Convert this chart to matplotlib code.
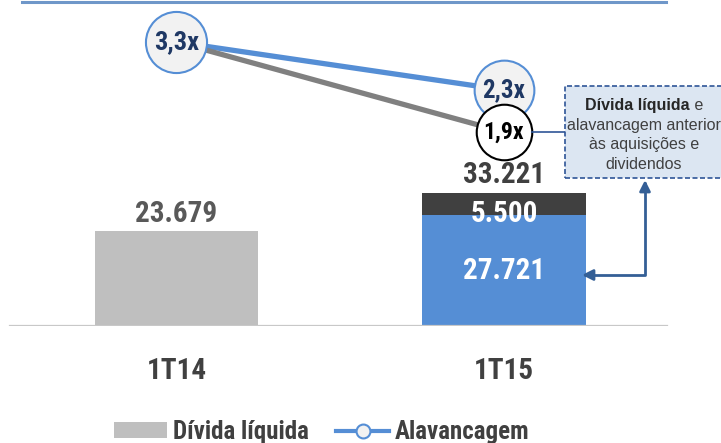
import matplotlib
matplotlib.use("Agg")
import matplotlib.pyplot as plt
from matplotlib.patches import Patch, Rectangle
from matplotlib.lines import Line2D
from matplotlib.offsetbox import TextArea, HPacker, VPacker, AnnotationBbox

plt.rcParams['font.family'] = ['Roboto Condensed', 'Liberation Sans', 'DejaVu Sans']

# dados
trimestres = ['1T14', '1T15']
divida_base = [23679, 27721]        # dívida líquida (anterior às aquisições)
divida_extra = [0, 5500]            # aquisições e dividendos
alav_pos = [3.3, 2.3]               # alavancagem
alav_ant = [3.3, 1.9]               # alavancagem anterior

cinza = '#bfbfbf'
azul = '#558ed5'
escuro = '#404040'
navy = '#1f3864'
seta = '#345f96'

def fmt_mil(v):
    return f"{v:,.0f}".replace(',', '.')

def fmt_x(v):
    return f"{v:.1f}x".replace('.', ',')

fig = plt.figure(figsize=(7.21, 4.43), dpi=100)
ax = fig.add_axes([0, 117 / 443, 1, 326 / 443])
ax.set_xlim(-0.539, 1.663)
ax.set_ylim(0, 81500)
for s in ax.spines.values():
    s.set_visible(False)
ax.set_yticks([])
x = [0, 1]
ax.set_xticks(x, trimestres)
ax.tick_params(axis='x', length=0, pad=22, labelsize=21, labelcolor=escuro)
for t in ax.get_xticklabels():
    t.set_fontweight('bold')

cores_base = [cinza, azul]
ax.bar(x, divida_base, width=0.5, color=cores_base, zorder=2)
ax.bar(x[1], divida_extra[1], bottom=divida_base[1], width=0.5, color=escuro, zorder=2)
ax.axhline(0, xmin=10 / 721, xmax=667 / 721, color='#c8c8c8', lw=1.6, zorder=3)

# rótulos das barras
totais = [b + e for b, e in zip(divida_base, divida_extra)]
cores_tot = ['#595959', escuro]
for xi, tot, c in zip(x, totais, cores_tot):
    ax.annotate(fmt_mil(tot), (xi, tot), xytext=(0, 7), textcoords='offset points',
                ha='center', va='baseline', fontsize=21, fontweight='bold', color=c)
ax.annotate(fmt_mil(divida_extra[1]), (x[1], divida_base[1]), xytext=(0, -5),
            textcoords='offset points', ha='center', va='baseline',
            fontsize=21, fontweight='bold', color='white', zorder=4)
ax.annotate(fmt_mil(divida_base[1]), (x[1], divida_base[1] / 2), ha='center', va='center',
            fontsize=21, fontweight='bold', color='white')

# alavancagem
ax2 = ax.twinx()
ax2.set_ylim(-2.617, 4.175)
ax2.axis('off')
ax3 = ax.twinx()
ax3.set_ylim(-1.117, 3.953)
ax3.axis('off')

ax2.plot(x, alav_pos, color=azul, lw=3.8, solid_capstyle='butt')
ax2.plot(x[1], alav_pos[1], 'o', ms=43, mfc='#f2f2f2', mec=azul, mew=1.5)
ax2.annotate(fmt_x(alav_pos[1]), (x[1], alav_pos[1]), ha='center', va='center',
             fontsize=18, fontweight='bold', color=navy)

ax3.plot(x, alav_ant, color='#808080', lw=3.8, solid_capstyle='butt')
ax3.plot(x[0], alav_ant[0], 'o', ms=44, mfc='#f2f2f2', mec=azul, mew=1.5)
ax3.annotate(fmt_x(alav_ant[0]), (x[0], alav_ant[0]), ha='center', va='center',
             fontsize=19, fontweight='bold', color=navy)
ax3.plot(x[1], alav_ant[1], 'o', ms=40, mfc='white', mec='black', mew=1.5)
ax3.annotate(fmt_x(alav_ant[1]), (x[1], alav_ant[1]), ha='center', va='center',
             fontsize=17, fontweight='bold', color='black')

# caixa de nota
fig.add_artist(Rectangle((565 / 721, 1 - 178 / 443), 160 / 721, 92 / 443,
                         transform=fig.transFigure, facecolor='#dce6f2',
                         edgecolor='#2f5597', lw=1.2, ls=(0, (3, 1.5)), zorder=5))
reg = dict(fontsize=11.5, color=escuro, family=['Liberation Sans', 'DejaVu Sans'])
neg = dict(reg, fontweight='bold', color='#262626')
linha1 = HPacker(children=[TextArea('Dívida líquida', textprops=neg),
                           TextArea(' e', textprops=reg)], sep=0, pad=0)
nota = VPacker(children=[linha1,
                         TextArea('alavancagem anterior', textprops=reg),
                         TextArea('às aquisições e', textprops=reg),
                         TextArea('dividendos', textprops=reg)],
               align='center', sep=3.2, pad=0)
ab = AnnotationBbox(nota, (644 / 721, 1 - 135 / 443), xycoords='figure fraction',
                    frameon=False, zorder=6)
fig.add_artist(ab)

ax3.annotate('', xy=(565, 443 - 132), xycoords='figure pixels',
             xytext=(x[1], alav_ant[1]), textcoords='data',
             arrowprops=dict(arrowstyle='-', color='#2f5597', lw=1.2,
                             shrinkA=20, shrinkB=0))
ax3.annotate('', xy=(582, 443 - 275), xycoords='figure pixels',
             xytext=(645, 443 - 180), textcoords='figure pixels',
             arrowprops=dict(arrowstyle='<|-|>', color=seta, lw=2,
                             mutation_scale=16, shrinkA=0, shrinkB=0,
                             connectionstyle='angle,angleA=90,angleB=0,rad=0'))

# linha superior
fig.add_artist(Line2D([22 / 721, 666 / 721], [1 - 1.5 / 443] * 2,
                      transform=fig.transFigure, color='#6f97c9', lw=2.2))

# legenda
handles = [Patch(facecolor=cinza, edgecolor='none'),
           Line2D([], [], color=azul, lw=3, marker='o', ms=10, mfc='#f2f2f2', mec=azul, mew=1.5)]
fig.legend(handles, ['Dívida líquida', 'Alavancagem'], loc='center',
           bbox_to_anchor=(322 / 721, 1 - 432 / 443), ncol=2, frameon=False,
           prop=dict(size=18, weight='bold'), labelcolor=escuro,
           handlelength=2.1, handleheight=0.62, handletextpad=0.25,
           columnspacing=1.1, borderpad=0, borderaxespad=0)

fig.savefig('out.png', dpi=100)
